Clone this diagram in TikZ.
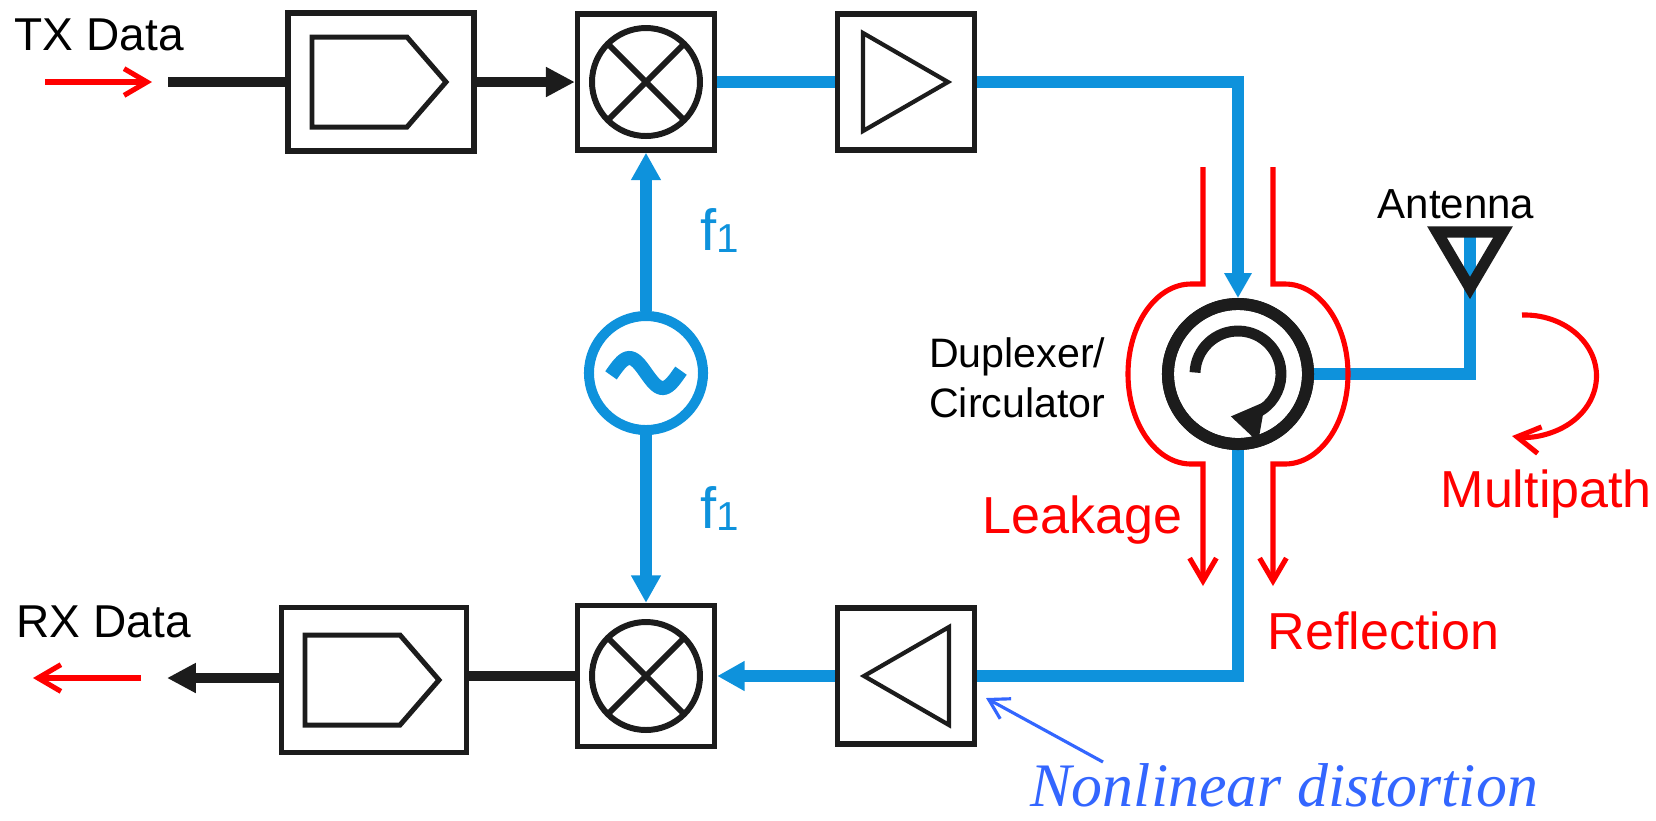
\documentclass[tikz,border=0pt]{standalone}
\usepackage{fontspec}
\setmainfont{Liberation Sans}
\newfontfamily\nlfont{Liberation Serif}
\usetikzlibrary{arrows.meta}

\definecolor{rfblue}{RGB}{14,146,220}
\definecolor{sigred}{RGB}{255,0,0}
\definecolor{nlblue}{RGB}{51,102,255}
\definecolor{ink}{RGB}{28,28,28}

\tikzset{
  blockbox/.style={draw=ink, line width=1.5pt, minimum width=1.37cm, minimum height=1.36cm, inner sep=0pt},
  rfline/.style={draw=rfblue, line width=3.4pt},
  bbline/.style={draw=ink, line width=3.1pt},
  rftip/.style={-{Triangle[length=7.8pt, width=8pt]}},
  bbtip/.style={-{Triangle[length=8.2pt, width=8pt]}},
  sigarrow/.style={draw=sigred, line width=1.45pt, -{Straight Barb[length=6.5pt, width=7.6pt]}},
  lbl/.style={inner sep=0pt, font=\fontsize{13.1pt}{15pt}\selectfont},
  redlbl/.style={inner sep=0pt, text=sigred, font=\fontsize{14.8pt}{17pt}\selectfont},
  dacsym/.pic={\draw[ink, line width=1.42pt] (-69,45) -- (26,45) -- (65,0) -- (26,-45) -- (-69,-45) -- cycle;},
  mixsym/.pic={\draw[ink, line width=1.7pt] (0,0) circle[radius=54] (45:54) -- (225:54) (135:54) -- (-45:54);},
  ampsym/.pic={\draw[ink, line width=1.2pt] (-43,49) -- (42,0) -- (-43,-49) -- cycle;}
}

\begin{document}
\begin{tikzpicture}[x=0.01cm, y=0.01cm]
\useasboundingbox (0,0) rectangle (1656,-820);
\def \rowtx {-82}
\def \rowrx {-676}

% blocks
\node[blockbox, minimum width=1.86cm, minimum height=1.38cm] (dacT) at (381,\rowtx) {};
\node[blockbox] (mixT) at (646,\rowtx) {};
\node[blockbox] (ampT) at (906,\rowtx) {};
\node[blockbox, minimum width=1.85cm, minimum height=1.45cm] (dacB) at (374,-680) {};
\node[blockbox, minimum height=1.41cm] (mixB) at (646,\rowrx) {};
\node[blockbox] (ampB) at (906,\rowrx) {};
\path (dacT) pic {dacsym};
\path (dacB) pic {dacsym};
\foreach \m in {mixT, mixB}
  \path (\m) pic {mixsym};
\path (ampT) pic {ampsym};
\path (ampB) pic[xscale=-1] {ampsym};

% local oscillator
\node[circle, draw=rfblue, line width=2.85pt, minimum size=1.14cm, inner sep=0pt] (osc) at (646,-373) {};
\draw[rfblue, line width=4pt] plot[domain=-35:35, samples=40, smooth] ({646+\x}, {-373-15*sin(5.4*\x)});

% duplexer / circulator
\node[circle, draw=ink, line width=3.4pt, minimum size=1.40cm, inner sep=0pt] (circ) at (1238,-374) {};
\coordinate (ant) at (1470,-233);

% rf paths
\draw[rfline] (mixT) -- (ampT);
\draw[rfline, -{Triangle[length=7.1pt, width=7.4pt]}] (ampT.east) -| (circ.north);
\draw[rfline, rftip] (osc) -- (mixT);
\draw[rfline, rftip] (osc) -- (mixB);
\draw[rfline] (circ.south) |- (ampB.east);
\draw[rfline, rftip] (ampB.west) -- (mixB.east);
\draw[rfline] (circ.east) -| (ant);
\node[circle, draw=ink, line width=3.4pt, minimum size=1.40cm, inner sep=0pt] at (circ) {};
\draw[ink, line width=3.1pt, -{Triangle[length=9pt, width=11pt]}] ([shift={(178:43)}]circ.center) arc[start angle=178, end angle=-100, radius=43];
\draw[ink, line width=3.2pt] (1437,-232) -- (1503,-232) -- (1470,-288) -- cycle;

% baseband
\coordinate (txIn) at (168,\rowtx);
\coordinate (rxOut) at (167,-678);
\draw[bbline] (txIn) -- (dacT.west);
\draw[bbline, bbtip] (dacT.east) -- (mixT.west);
\draw[bbline] (mixB.west) -- (mixB.west -| dacB.east);
\draw[bbline, bbtip] (dacB.west |- rxOut) -- (rxOut);

% self-interference
\coordinate (txA) at (45,\rowtx);
\coordinate (rxA) at (141,-678);
\draw[sigarrow] (txA) -- ++(107,0);
\draw[sigarrow] (rxA) -- ++(-108,0);
\draw[sigarrow] ([shift={(-35,207)}]circ.center) -- ++(0,-117) -- ++(-12,0)
  arc[start angle=90, end angle=270, x radius=63, y radius=90] -- ++(12,0) -- ++(0,-122);
\draw[sigarrow] ([shift={(35,207)}]circ.center) -- ++(0,-117) -- ++(12,0)
  arc[start angle=90, end angle=-90, x radius=63, y radius=90] -- ++(-12,0) -- ++(0,-122);
\coordinate (mpStart) at (1522,-315);
\draw[sigarrow] (mpStart) arc[start angle=92, end angle=-100, x radius=72, y radius=61];
\coordinate (nlTail) at (1103,-762);
\coordinate (nlTip) at (986,-698);
\draw[nlblue, line width=0.9pt, -{Straight Barb[length=5.5pt, width=6.5pt]}] (nlTail) -- (nlTip);

% labels
\node[lbl, anchor=base west] (txLbl) at (14,-50) {TX Data};
\node[lbl, anchor=base west] (rxLbl) at (16,-637) {RX Data};
\node[inner sep=0pt, anchor=base west, font=\fontsize{11.95pt}{14pt}\selectfont] (antLbl) at (1377,-218) {Antenna};
\node[inner sep=0pt, anchor=base east, font=\fontsize{11.7pt}{14pt}\selectfont] (dupLbl) at (1106,-367) {Duplexer/};
\node[inner sep=0pt, anchor=base east, font=\fontsize{11.7pt}{14pt}\selectfont] (cirLbl) at (1106,-417) {Circulator};
\node[redlbl, anchor=base west] (leakLbl) at (982,-533) {Leakage};
\node[redlbl, anchor=base west] (reflLbl) at (1267,-649) {Reflection};
\node[redlbl, anchor=base west] (mpLbl) at (1440,-507) {Multipath};
\foreach \n/\y in {fTop/-250, fBot/-528}
  \node[inner sep=0pt, anchor=base west, text=rfblue] (\n) at (700,\y)
    {\fontsize{16.5pt}{18pt}\selectfont f\fontsize{11.5pt}{13pt}\selectfont\raisebox{-0.6pt}{1}};
\node[inner sep=0pt, anchor=base west, text=nlblue, font=\nlfont\itshape\fontsize{17.6pt}{20pt}\selectfont] (nlLbl) at (1030,-806) {Nonlinear distortion};
\end{tikzpicture}
\end{document}
